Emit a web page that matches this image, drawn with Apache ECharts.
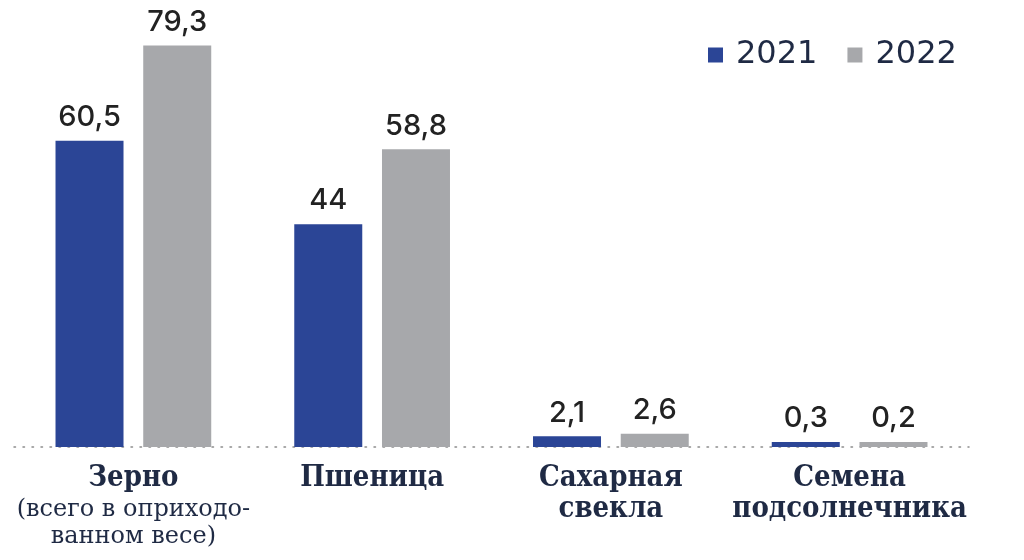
<!DOCTYPE html>
<html>
<head>
<meta charset="utf-8">
<script src="https://cdn.jsdelivr.net/npm/echarts@6/dist/echarts.min.js"></script>
<style>
  html, body { margin: 0; padding: 0; background: #fff; }
  #chart { width: 1024px; height: 560px; }
</style>
</head>
<body>
<div id="chart"></div>
<script>
const categories = ['Зерно', 'Пшеница', 'Сахарная\nсвекла', 'Семена\nподсолнечника'];
const subtitles = ['(всего в оприходо-\nванном весе)', '', '', ''];
const years = ['2021', '2022'];
const values2021 = [60.5, 44, 2.1, 0.3];
const values2022 = [79.3, 58.8, 2.6, 0.2];

const chart = echarts.init(document.getElementById('chart'));

const fmt = function (p) {
  return String(p.value).replace('.', ',');
};

const labelStyle = {
  show: true,
  position: 'top',
  distance: 9,
  color: '#222',
  fontSize: 29,
  fontWeight: 500,
  fontFamily: 'Inter',
  formatter: fmt
};

var option = {
  backgroundColor: '#fff',
  animation: false,
  legend: {
    data: years,
    left: 703,
    top: 34,
    icon: 'rect',
    itemWidth: 15,
    itemHeight: 15,
    itemGap: 30,
    textStyle: {
      color: '#1f2a44',
      fontSize: 32,
      fontFamily: 'DejaVu Sans',
      padding: [0, 0, 0, 8]
    }
  },
  grid: {
    left: 14,
    right: 55,
    top: 42,
    bottom: 113
  },
  xAxis: {
    type: 'category',
    data: categories,
    axisTick: { show: false },
    axisLine: {
      lineStyle: {
        color: '#8c8c8c',
        width: 1.5,
        type: [1.5, 7.5]
      }
    },
    axisLabel: {
      margin: 16,
      interval: 0,
      formatter: function (v, i) {
        var s = '{a|' + v.split('\n').join('}\n{a|') + '}';
        if (subtitles[i]) {
          s += '\n{b|' + subtitles[i].split('\n').join('}\n{b|') + '}';
        }
        return s;
      },
      rich: {
        a: {
          fontSize: 29,
          lineHeight: 31,
          fontWeight: 'bold',
          fontFamily: 'DejaVu Serif Condensed, DejaVu Serif',
          color: '#1f2a44'
        },
        b: {
          fontSize: 24,
          lineHeight: 27,
          padding: [4, 0, 0, 0],
          fontFamily: 'DejaVu Serif',
          color: '#1f2a44'
        }
      }
    }
  },
  yAxis: {
    type: 'value',
    min: 0,
    max: 80,
    show: false,
    splitLine: { show: false }
  },
  series: [
    {
      name: years[0],
      type: 'bar',
      data: values2021,
      barWidth: 68,
      barGap: '29%',
      barMinHeight: 5,
      itemStyle: { color: '#2b4596' },
      label: labelStyle
    },
    {
      name: years[1],
      type: 'bar',
      data: values2022,
      barWidth: 68,
      barGap: '29%',
      barMinHeight: 5,
      itemStyle: { color: '#a7a8ab' },
      label: labelStyle
    }
  ]
};

chart.setOption(option);
</script>
</body>
</html>
